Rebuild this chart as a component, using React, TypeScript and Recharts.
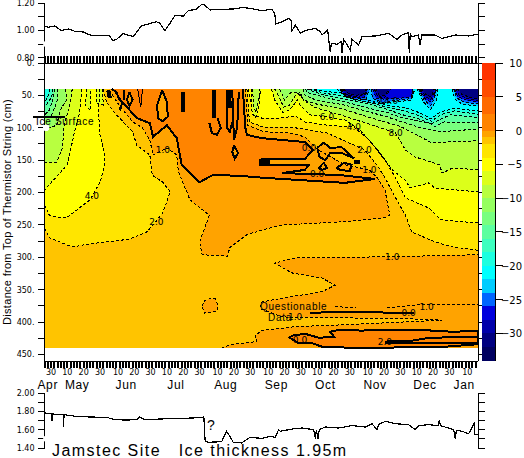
import React from "react";
import {
  Area,
  ComposedChart,
  Line,
  ReferenceDot,
  XAxis,
  YAxis,
} from "recharts";

type Pt = [number, number];

// x axis is days since 26 Apr, depth is cm from the top of the string
const LAST_DAY = 265.5;
const combDays = Array.from({ length: 133 }, (_, i) => i * 2);
const dayTicks = [4, 14, 24, 34, 45, 55, 65, 75, 85, 95, 106, 116, 126, 137, 147, 157, 167, 177, 187, 198, 208, 218, 228, 238, 248, 259];
const dayTickLabels = ["30", "10", "20", "30", "10", "20", "30", "10", "20", "30", "10", "20", "30", "10", "20", "30", "10", "20", "30", "10", "20", "30", "10", "20", "30", "10"];
const monthTicks = [2, 20, 50, 80.5, 111, 142, 172, 202.5, 233, 257];
const monthLabels = ["Apr", "May", "Jun", "Jul", "Aug", "Sep", "Oct", "Nov", "Dec", "Jan"];
const depthTicks = [0, 25, 50, 75, 100, 125, 150, 175, 200, 225, 250, 275, 300, 325, 350, 375, 400, 425, 450];

// top panel
const topSeries: Pt[] = [
  [0.2, 1.032], [2.2, 1.022], [6.3, 1.032], [10.4, 0.998], [14.5, 1.01], [18.6, 0.993], [23.7, 0.988], [27.8, 0.966],
  [32.9, 0.961], [40, 0.959], [41.7, 0.924], [44.1, 0.934], [48.2, 0.976], [54.3, 0.954], [59.4, 1.032], [63.5, 1.046],
  [68.6, 1.063], [70.7, 1.051], [73.7, 0.998], [76.8, 1.051], [79.9, 1.107], [85, 1.105], [88, 1.144], [93.1, 1.154],
  [96.2, 1.19], [98.2, 1.185], [101.3, 1.149], [107.4, 1.154], [115.6, 1.156], [121.7, 1.168], [127.9, 1.156], [133, 1.144],
  [139.3, 1.154], [141, 1.124], [141.8, 1.046], [145.4, 1.063], [149.5, 1.088], [151, 1.075], [151.6, 0.998], [153.6, 1.039],
  [156.7, 0.978], [159.7, 0.998], [165.8, 1.015], [168.9, 0.99], [170, 0.966], [173.4, 1.002], [175, 0.844], [175.7, 0.905],
  [179.2, 0.898], [181.8, 0.917], [182.2, 0.837], [183.2, 0.934], [186.7, 0.868], [187.3, 0.856], [188.3, 0.934], [192.4, 0.893],
  [194.5, 0.954], [202.6, 0.959], [210.8, 0.978], [215.9, 0.934], [218.9, 0.966], [223, 0.983], [223.4, 0.832], [224, 0.978],
  [225, 0.954], [229, 0.966], [230.1, 0.893], [231, 0.966], [233, 0.966], [239.2, 0.966], [243.3, 0.941], [251.6, 0.966],
  [259.7, 0.959], [265.4, 0.971],
];
const topTicks = [0.8, 0.9, 1.0, 1.1, 1.2];
const topLabelled = [0.8, 1.0, 1.2];

// bottom panel
const bottomSeries: Pt[] = [
  [0.2, 1.782], [4.3, 1.775], [4.7, 1.691], [4.9, 1.775], [6.3, 1.767], [11.4, 1.767], [11.6, 1.629], [12, 1.767],
  [14.5, 1.756], [19.6, 1.745], [27.8, 1.738], [38, 1.735], [43.1, 1.709], [50.2, 1.705], [56.4, 1.709], [58, 1.738],
  [61.5, 1.709], [70.7, 1.716], [82.9, 1.724], [91.1, 1.727], [97.6, 1.738], [98.4, 1.473], [100.3, 1.462], [108.5, 1.469],
  [111.5, 1.582], [113.6, 1.527], [115.6, 1.462], [120.7, 1.455], [125.8, 1.516], [133.2, 1.505], [138.3, 1.527], [141.3, 1.516],
  [143.4, 1.6], [144.4, 1.582], [151.6, 1.607], [157.7, 1.618], [164.9, 1.6], [165.9, 1.502], [166.5, 1.6], [167.5, 1.502],
  [168.3, 1.6], [172, 1.629], [180.2, 1.618], [188.3, 1.644], [196.5, 1.629], [200.6, 1.665], [203.6, 1.6], [204.6, 1.655],
  [208.7, 1.691], [214.9, 1.665], [222.9, 1.655], [227, 1.6], [229.2, 1.644], [235.3, 1.655], [241.4, 1.644], [241.8, 1.709],
  [242.5, 1.644], [250.6, 1.6], [251.6, 1.502], [252.2, 1.593], [255.7, 1.582], [259.8, 1.556], [263.3, 1.673], [263.5, 1.545],
  [265.4, 1.545],
];
const bottomTicks = [1.4, 1.5, 1.6, 1.7, 1.8, 1.9, 2.0];
const bottomLabelled = [1.4, 1.6, 1.8, 2.0];

// colour scale
const bandEdges = [10, 7.5, 5, 2.5, 0, -1, -2, -4, -6, -8, -10, -12, -14, -16, -18, -20, -22, -24, -26, -28, -30, -32, -34.1];
const bandColors = ["#ff3300", "#ff4d00", "#ff6a00", "#ff8400", "#ffa300", "#ffc400", "#ffe500", "#ffff00", "#dcff1a", "#b8ff40", "#95ff60", "#78ff80", "#5cffa0", "#3dffbf", "#1cffe0", "#00ffff", "#00ccff", "#0066ff", "#0000dd", "#0000aa", "#000080", "#000060"];
const scaleTicks = [10, 5, 0, -5, -10, -15, -20, -25, -30];

// contours, warm side
const fieldFloor: Pt[] = [[0, 440], [LAST_DAY, 440]];
const minus1Main: Pt[] = [
  [123, 40], [124.5, 96], [134, 106], [150, 108], [159.5, 114], [167.5, 134], [184, 157], [199, 165], [203.5, 176], [208.5, 196],
  [211.5, 235], [208.5, 239], [184, 245], [145.5, 250], [133, 258], [124, 265], [113.5, 285], [112, 298], [96.5, 296], [95, 276],
  [101, 235], [89, 211], [88, 204], [82, 168], [81, 142], [75, 131], [66.5, 142], [64.5, 119], [60, 100], [54, 91], [46, 66], [39, 40],
];
const minus1Lower: Pt[] = [
  [108.5, 440], [113.5, 435], [130, 430], [129, 421], [133, 413], [153.5, 407], [184, 404], [243.5, 397], [225, 395], [145.5, 392],
  [133, 380], [132, 373], [133, 369], [145.5, 363], [170, 353], [178, 343], [170, 332], [151.5, 324], [141, 309], [153.5, 301],
  [213, 299], [265.5, 296],
];
const minus1Blob: Pt[] = [[96.5, 375], [98, 367], [101, 364], [104.5, 364], [106, 373], [106, 380], [104.5, 384], [98, 386], [96.5, 375]];
const minus1Right: Pt[][] = [
  [[178, 376], [191, 378]],
  [[210, 378], [230, 373], [265.5, 373]],
];
const zeroMain: Pt[] = [
  [41, 40], [44, 45], [46, 57], [50.5, 68], [56.5, 85], [64.5, 93], [66.5, 114], [75, 96], [81, 116], [84, 157], [95, 184],
  [103, 173], [119, 174], [133, 177], [184, 185], [202.5, 179], [181, 173], [159.5, 171], [145.5, 170], [159.5, 165], [162, 157],
  [132, 157], [132, 149], [159.5, 148], [164.5, 134], [159.5, 122], [133, 116], [124, 111], [123, 100], [121.5, 40],
];
const zeroLower: Pt[] = [
  [265.5, 413], [250.5, 415], [230, 412], [193, 413], [184, 412], [178, 413], [175, 415], [177.5, 423], [168, 424], [159.5, 418],
  [151.5, 421], [150, 424], [155.5, 432], [163.5, 432], [170, 438], [193, 440], [245, 438], [265.5, 434], [265.5, 413],
];
const zeroLoops: Pt[][] = [
  [[72, 42], [69, 65], [69.5, 85], [72.5, 90], [75.5, 83], [75, 60], [72, 42]],
  [[52, 45], [50.5, 57], [52, 66], [54, 57], [52, 45]],
  [[116, 127], [115, 137], [116.5, 148], [118.5, 139], [116, 127]],
  [[167, 131], [171, 123], [175, 131], [182, 130], [189.5, 147], [182, 139], [175, 139], [172, 150], [168.5, 145], [167, 131]],
  [[168, 162], [171, 154], [173, 162], [170, 165], [168, 162]],
  [[179, 162], [183.5, 154], [188, 157], [187, 167], [181, 165], [179, 162]],
];
const zeroStrands: Pt[][] = [
  [[43, 42], [47.5, 62], [46, 73]],
  [[48.5, 42], [49, 57]],
  [[101, 93], [102.5, 108], [105.5, 111], [108, 100], [106, 85]],
  [[111.5, 42], [112, 85], [111.5, 99], [113.5, 106], [115, 91]],
  [[115, 42], [116, 119], [118, 100], [119, 45]],
  [[162.5, 386], [179, 384], [200.5, 384], [212.5, 386], [226.5, 386]],
  [[208.5, 430], [224, 429], [236, 424], [265.5, 423]],
  [[208.5, 432], [265.5, 432]],
];
const zeroBlobs: Pt[][] = [
  [[39, 42], [40, 54]],
  [[85, 45], [85, 76]],
  [[104, 42], [104, 85]],
  [[113, 42], [113.5, 70]],
  [[132, 153], [138, 153]],
  [[189.5, 153], [193, 153]],
];
const hotSliver: Pt[] = [[57, 40], [59, 68], [60, 40]];

// contours, cold side: left bank
const minus2Left: Pt[] = [[36, 40], [38, 60], [44, 80], [54, 106], [56.5, 127], [64.5, 142], [66, 173], [72.5, 184], [77, 199], [72.5, 231], [67.5, 247], [62.5, 261], [52, 272], [28, 279], [17, 284], [3, 270], [0, 255]];
const minus4Left: Pt[] = [[34, 40], [33, 73], [34, 111], [37, 142], [37, 157], [34, 184], [28, 211], [14, 238], [9.5, 239], [3, 235], [0, 219]];
const minus6Left: Pt[] = [[23, 40], [21.5, 76], [18, 111], [14, 157], [0, 196]];
const minus8Left: Pt[] = [[17, 40], [15.5, 65], [12, 96], [11, 131], [7.5, 153], [0, 153]];
const minus10Left: Pt[] = [[13, 40], [13.5, 57], [9.5, 73], [7.5, 96], [0, 103]];
const minus12Left: Pt[] = [[8, 40], [8, 57], [4.5, 80], [0, 88]];
const minus14Left: Pt[] = [[6.5, 40], [5, 57], [3, 73], [0, 80]];
const minus16Left: Pt[] = [[5, 40], [4.5, 52], [0, 69]];
const minus18Left: Pt[] = [[3, 40], [2.5, 49], [0, 62]];
const minus6TongueA: Pt[] = [[26, 40], [25, 65], [28, 73], [28.5, 40]];
const minus6TongueB: Pt[] = [[32, 40], [31.5, 62], [36, 65], [35.5, 40]];

// contours, cold side: right of the melt season
const minus2Right: Pt[] = [[124, 40], [125.5, 91], [134, 99], [153.5, 100], [173, 108], [196, 134], [203.5, 157], [208.5, 177], [215, 208], [221, 235], [225, 261], [239, 276], [250, 284], [265.5, 289]];
const minus4Right: Pt[] = [[125, 40], [127.5, 80], [133, 85], [144, 85], [154, 82], [159.5, 91], [173, 96], [189.5, 99], [199, 119], [208.5, 150], [215, 177], [221, 208], [235.5, 224], [242.5, 242], [265.5, 247]];
const minus6Tongue: Pt[] = [[126.5, 40], [127, 73], [129, 85], [131, 73], [132.5, 40]];
const minus6Right: Pt[] = [[139, 40], [141, 57], [146, 76], [150, 73], [153.5, 62], [155, 57], [156.5, 65], [162.5, 80], [173, 83], [184, 88], [193, 103], [204, 134], [213, 165], [221, 181], [224, 193], [235.5, 185], [239, 193], [265.5, 199]];
const minus8Tongue: Pt[] = [[127.5, 40], [128, 66], [129.5, 76], [130.5, 65], [132, 40]];
const minus8Right: Pt[] = [[141, 40], [143, 49], [146.5, 68], [150, 65], [154, 49], [156.5, 45], [158.5, 57], [166, 69], [181, 80], [196, 92], [215, 108], [221, 134], [227, 145], [242, 157], [243.5, 170], [250, 162], [265.5, 165]];
const minus10Right: Pt[] = [[144, 40], [147, 57], [151, 45], [154.5, 45], [159, 57], [166, 63], [184, 72], [199, 84], [218, 98], [228, 111], [237, 123], [265.5, 120]];
const minus12Right: Pt[] = [[158.5, 40], [159, 49], [166, 57], [184, 65], [199, 76], [208.5, 82], [218, 90], [229, 99], [242.5, 106], [265.5, 102]];
const minus14Right: Pt[] = [[159.5, 40], [161.5, 46], [172, 53], [184, 60], [199, 70], [210.5, 77], [218, 84], [236, 93], [239, 98], [245, 91], [265.5, 92]];
const minus16Right: Pt[] = [[160.5, 40], [166, 45], [172, 50], [181, 54], [193, 60], [202.5, 66], [210.5, 72], [218, 79], [230, 87], [237, 94], [242.5, 87], [248.5, 80], [265.5, 84]];
const minus18Right: Pt[] = [[162, 40], [172, 47], [181, 50], [190, 56], [202.5, 63], [210.5, 69], [221, 74], [230, 82], [237, 90], [242.5, 80], [251, 74], [265.5, 79]];
const minus20Right: Pt[] = [[165, 40], [172, 44], [181, 46], [190, 53], [204, 60], [210.5, 66], [221, 69], [230, 77], [236.5, 86], [243, 75], [251, 70], [265.5, 74]];
const minus22Cells: Pt[][] = [
  [[179, 40], [183, 49], [190, 57], [198, 60], [205.5, 63], [213, 60], [224, 58], [227, 40]],
  [[228, 40], [232, 60], [236.5, 72], [240, 58], [241, 40]],
  [[249.5, 40], [251.5, 56], [256, 64], [265.5, 66]],
];
const minus24Cells: Pt[][] = [
  [[181, 40], [184, 52], [190, 56], [197, 56], [199, 40]],
  [[200, 40], [201, 55], [208, 62], [213.5, 58], [225, 55], [226, 40]],
  [[229, 40], [232.5, 57], [236.5, 66], [239, 54], [240, 40]],
  [[250.5, 40], [252.5, 54], [257.5, 61], [265.5, 63]],
];
const minus26Cells: Pt[][] = [
  [[182, 40], [184, 50], [190, 54], [196, 53], [198, 40]],
  [[201, 40], [203, 54], [208.5, 56], [213.5, 55], [224.5, 53], [225.5, 40]],
  [[229.5, 40], [233, 55], [236.5, 60], [239, 50], [239.5, 40]],
  [[251, 40], [253, 52], [259, 58], [265.5, 60]],
];
const minus28Cells: Pt[][] = [
  [[182.5, 40], [185, 49], [191, 52], [195.5, 50], [197.5, 40]],
  [[202, 40], [204, 52], [208.5, 53], [212, 40]],
  [[230, 40], [233.5, 52], [236.5, 56], [238.5, 48], [239, 40]],
  [[252, 40], [254, 50], [260.5, 56], [265.5, 58]],
];
const minus30Cells: Pt[][] = [
  [[183, 40], [186, 47], [191, 50], [195, 48], [197, 40]],
  [[203, 40], [205, 50], [208.5, 50], [211, 40]],
  [[231, 40], [234, 50], [237, 52], [238.5, 40]],
  [[253, 40], [255.5, 48], [260.5, 53], [265.5, 55]],
];

const contourLabels: [number, number, string][] = [
  [72.5, 134, "1.0"], [29, 205, "4.0"], [68.5, 245, "2.0"], [167, 171, "0.0"], [196, 134, "2.0"], [199, 165, "1.0"],
  [173, 83, "6.0"], [189.5, 99, "4.0"], [215, 108, "8.0"], [210.5, 59, "14.0"], [162, 131, "0.0"], [213, 299, "1.0"],
  [234, 376, "1.0"], [153.5, 392, "1.0"], [223, 386, "0.0"], [156.5, 427, "0.0"], [208.5, 430, "2.0"],
];

const FONT_SMALL = "'DejaVu Sans', sans-serif";
const FONT_TEXT = "'Liberation Sans', sans-serif";

const bands = (pts: Pt[], base: number) => pts.map(([day, depth]) => ({ day, band: [base, depth] }));
const rows = (pts: Pt[]) => pts.map(([day, value]) => ({ day, value }));

const renderFill = (pts: Pt[], color: string, key: string, base = 40) => (
  <Area
    key={key}
    data={bands(pts, base)}
    dataKey="band"
    type="linear"
    stroke="none"
    fill={color}
    fillOpacity={1}
    dot={false}
    activeDot={false}
    isAnimationActive={false}
  />
);

const renderLine = (pts: Pt[], key: string, width = 1, dash?: string) => (
  <Line
    key={key}
    data={rows(pts)}
    dataKey="value"
    type="linear"
    stroke="#000"
    strokeWidth={width}
    strokeDasharray={dash}
    dot={false}
    activeDot={false}
    isAnimationActive={false}
  />
);

// an axis with no series draws no ticks, so each spare axis gets an unpainted one
const axisAnchor = (ids: { xAxisId?: string; yAxisId?: string }, value: number, key: string) => (
  <Line
    key={key}
    {...ids}
    data={[{ day: 1, value }]}
    dataKey="value"
    stroke="none"
    dot={false}
    activeDot={false}
    isAnimationActive={false}
  />
);

const coldRegions: [Pt[], string][] = [
  [minus2Left, "#ffe500"], [minus2Right, "#ffe500"],
  [minus4Left, "#ffff00"], [minus4Right, "#ffff00"],
  [minus6Left, "#dcff1a"], [minus6TongueA, "#dcff1a"], [minus6TongueB, "#dcff1a"], [minus6Tongue, "#dcff1a"], [minus6Right, "#dcff1a"],
  [minus8Left, "#b8ff40"], [minus8Tongue, "#b8ff40"], [minus8Right, "#b8ff40"],
  [minus10Left, "#95ff60"], [minus10Right, "#95ff60"],
  [minus12Left, "#78ff80"], [minus12Right, "#78ff80"],
  [minus14Left, "#5cffa0"], [minus14Right, "#5cffa0"],
  [minus16Left, "#3dffbf"], [minus16Right, "#3dffbf"],
  [minus18Left, "#1cffe0"], [minus18Right, "#1cffe0"],
  [minus20Right, "#00ffff"],
  ...minus22Cells.map((c): [Pt[], string] => [c, "#00ccff"]),
  ...minus24Cells.map((c): [Pt[], string] => [c, "#0066ff"]),
  ...minus26Cells.map((c): [Pt[], string] => [c, "#0000dd"]),
  ...minus28Cells.map((c): [Pt[], string] => [c, "#0000aa"]),
  ...minus30Cells.map((c): [Pt[], string] => [c, "#000080"]),
];

const smallTick = { fontSize: 8, fontFamily: FONT_SMALL, fill: "#000" };
const axisLine = { stroke: "#000", strokeWidth: 1 };

function Timeseries({ series, ticks, labelled, domain, top, bottom }: {
  series: Pt[]; ticks: number[]; labelled: number[]; domain: [number, number]; top: number; bottom: number;
}) {
  return (
    <ComposedChart
      width={524}
      height={458}
      margin={{ top, bottom, left: 4.5, right: 39 }}
      style={{ position: "absolute", left: 0, top: 0 }}
    >
      <XAxis dataKey="day" type="number" domain={[0, LAST_DAY]} hide />
      <YAxis
        type="number"
        width={40}
        domain={domain}
        ticks={ticks}
        interval={0}
        tickSize={7}
        tickMargin={3}
        tick={smallTick}
        axisLine={axisLine}
        tickLine={axisLine}
        tickFormatter={(v: number) => (labelled.some((l) => Math.abs(l - v) < 0.001) ? v.toFixed(2) : "")}
      />
      <YAxis
        yAxisId="right"
        orientation="right"
        type="number"
        width={7}
        domain={domain}
        ticks={ticks}
        interval={0}
        tickSize={7}
        axisLine={axisLine}
        tickLine={axisLine}
        tickFormatter={() => ""}
      />
      {axisAnchor({ yAxisId: "right" }, ticks[1], "right-anchor")}
      {renderLine(series, "series", 1.2)}
    </ComposedChart>
  );
}

function ContourPanel() {
  return (
    <ComposedChart
      width={524}
      height={458}
      margin={{ top: 56, bottom: 65, left: 4.5, right: 39 }}
      style={{ position: "absolute", left: 0, top: 0 }}
    >
      <XAxis
        dataKey="day"
        type="number"
        domain={[0, LAST_DAY]}
        ticks={combDays}
        interval={0}
        height={8}
        tickSize={7}
        axisLine={axisLine}
        tickLine={{ stroke: "#000", strokeWidth: 2 }}
        tickFormatter={() => ""}
      />
      <XAxis
        xAxisId="days"
        dataKey="day"
        type="number"
        domain={[0, LAST_DAY]}
        ticks={dayTicks}
        interval={0}
        height={10}
        tickSize={0}
        tickMargin={0}
        axisLine={false}
        tickLine={false}
        tick={smallTick}
        tickFormatter={(v: number) => dayTickLabels[dayTicks.indexOf(v)]}
      />
      <XAxis
        xAxisId="months"
        dataKey="day"
        type="number"
        domain={[0, LAST_DAY]}
        ticks={monthTicks}
        interval={0}
        height={14}
        tickSize={0}
        tickMargin={1}
        axisLine={false}
        tickLine={false}
        tick={{ fontSize: 12, fontFamily: FONT_TEXT, fill: "#000", letterSpacing: 0.6 }}
        tickFormatter={(v: number) => monthLabels[monthTicks.indexOf(v)]}
      />
      <XAxis
        xAxisId="topComb"
        dataKey="day"
        orientation="top"
        type="number"
        domain={[0, LAST_DAY]}
        ticks={combDays}
        interval={0}
        height={7}
        tickSize={7}
        axisLine={axisLine}
        tickLine={{ stroke: "#000", strokeWidth: 2 }}
        tickFormatter={() => ""}
      />
      <YAxis
        type="number"
        reversed
        width={40}
        domain={[0, 460]}
        ticks={depthTicks}
        interval={0}
        tickSize={7}
        tickMargin={3}
        tick={smallTick}
        axisLine={axisLine}
        tickLine={axisLine}
        tickFormatter={(v: number) => (v % 50 === 0 ? `${v}.` : "")}
      />
      <YAxis
        yAxisId="right"
        orientation="right"
        type="number"
        reversed
        width={7}
        domain={[0, 460]}
        ticks={depthTicks}
        interval={0}
        tickSize={4}
        axisLine={axisLine}
        tickLine={axisLine}
        tickFormatter={() => ""}
      />
      {axisAnchor({ xAxisId: "days" }, 100, "days-anchor")}
      {axisAnchor({ xAxisId: "months" }, 100, "months-anchor")}
      {axisAnchor({ xAxisId: "topComb" }, 100, "top-anchor")}
      {axisAnchor({ yAxisId: "right" }, 100, "right-anchor")}

      {renderFill(fieldFloor, "#ffc400", "floor")}
      {renderFill(minus1Lower, "#ffa300", "m1-lower", 440)}
      {renderFill(minus1Blob, "#ffa300", "m1-blob")}
      {renderFill(minus1Main, "#ffa300", "m1-main")}
      {renderFill(zeroMain, "#ff8400", "z-main")}
      {renderFill(zeroLower, "#ff8400", "z-lower", 440)}
      {zeroLoops.map((p, i) => renderFill(p, "#ffa300", `z-loop-${i}`))}
      {renderFill(hotSliver, "#ff6a00", "hot")}
      {coldRegions.map(([p, c], i) => renderFill(p, c, `cold-${i}`))}

      {coldRegions.map(([p], i) => renderLine(p, `cold-line-${i}`, 1, "3 2"))}
      {renderLine(minus1Main, "m1-main-line", 1, "3 2")}
      {renderLine(minus1Lower, "m1-lower-line", 1, "3 2")}
      {renderLine(minus1Blob, "m1-blob-line", 1, "3 2")}
      {minus1Right.map((p, i) => renderLine(p, `m1-right-${i}`, 1, "3 2"))}
      {renderLine(hotSliver, "hot-line", 1)}
      {renderLine(zeroMain, "z-main-line", 2)}
      {renderLine(zeroLower, "z-lower-line", 2)}
      {zeroLoops.map((p, i) => renderLine(p, `z-loop-line-${i}`, 2))}
      {zeroStrands.map((p, i) => renderLine(p, `z-strand-${i}`, 2))}
      {zeroBlobs.map((p, i) => renderLine(p, `z-blob-${i}`, 4))}

      {contourLabels.map(([day, depth, text], i) => (
        <ReferenceDot
          key={`lab-${i}`}
          x={day}
          y={depth}
          r={0}
          stroke="none"
          fill="none"
          label={{ value: text, position: "center", fontSize: 9, fontFamily: FONT_SMALL, fill: "#000" }}
        />
      ))}
    </ComposedChart>
  );
}

function ColourBar() {
  return (
    <ComposedChart
      width={524}
      height={458}
      margin={{ top: 63, bottom: 97, left: 482, right: 0 }}
      style={{ position: "absolute", left: 0, top: 0 }}
    >
      <XAxis dataKey="x" type="number" domain={[0, 1]} hide />
      <YAxis
        orientation="right"
        type="number"
        width={29}
        domain={[-34.1, 10]}
        ticks={scaleTicks}
        interval={0}
        tickSize={8}
        axisLine={axisLine}
        tickLine={axisLine}
        tick={(p: any) => (
          <text x={522} y={p.y + 4} textAnchor="end" fontSize={10} fontFamily={FONT_SMALL} fill="#000">
            {p.payload.value < 0 ? `\u2212${Math.abs(p.payload.value)}` : p.payload.value}
          </text>
        )}
      />
      {bandColors.map((c, i) => (
        <Area
          key={c}
          data={[
            { x: 0, band: [bandEdges[i + 1], bandEdges[i]] },
            { x: 1, band: [bandEdges[i + 1], bandEdges[i]] },
          ]}
          dataKey="band"
          type="linear"
          stroke="none"
          fill={c}
          fillOpacity={1}
          dot={false}
          activeDot={false}
          isAnimationActive={false}
        />
      ))}
    </ComposedChart>
  );
}

const overlay: React.CSSProperties = { position: "absolute", color: "#000", whiteSpace: "pre", lineHeight: 1 };

export default function App() {
  return (
    <div style={{ position: "absolute", left: 0, top: 0, width: 524, height: 458, background: "#fff", overflow: "hidden" }}>
      <style>{`svg path, svg line { shape-rendering: crispEdges; }`}</style>
      <Timeseries series={topSeries} ticks={topTicks} labelled={topLabelled} domain={[0.761, 1.2]} top={3} bottom={395} />
      <ContourPanel />
      <Timeseries series={bottomSeries} ticks={bottomTicks} labelled={bottomLabelled} domain={[1.4, 2.0]} top={393} bottom={10} />
      <ColourBar />

      <div style={{ ...overlay, left: 7, top: 212, fontFamily: FONT_TEXT, fontSize: 11, letterSpacing: 0.3, transform: "translate(-50%, -50%) rotate(-90deg)" }}>
        Distance from Top of Thermistor String (cm)
      </div>
      <div style={{ position: "absolute", left: 33, top: 116, width: 32, height: 2, background: "#000" }} />
      <div style={{ ...overlay, left: 36, top: 117, fontFamily: FONT_TEXT, fontSize: 10, letterSpacing: 0.7 }}>Ice Surface</div>
      <div style={{ ...overlay, left: 260, top: 302, fontFamily: FONT_TEXT, fontSize: 10, letterSpacing: 0.7 }}>Questionable</div>
      <div style={{ ...overlay, left: 268, top: 313, fontFamily: FONT_TEXT, fontSize: 10, letterSpacing: 0.7 }}>Data</div>
      <div style={{ ...overlay, left: 207, top: 418, fontFamily: FONT_TEXT, fontSize: 14 }}>?</div>
      <div style={{ ...overlay, left: 52, top: 443, fontFamily: FONT_TEXT, fontSize: 16, letterSpacing: 1.45 }}>Jamstec Site   Ice thickness 1.95m</div>
    </div>
  );
}
